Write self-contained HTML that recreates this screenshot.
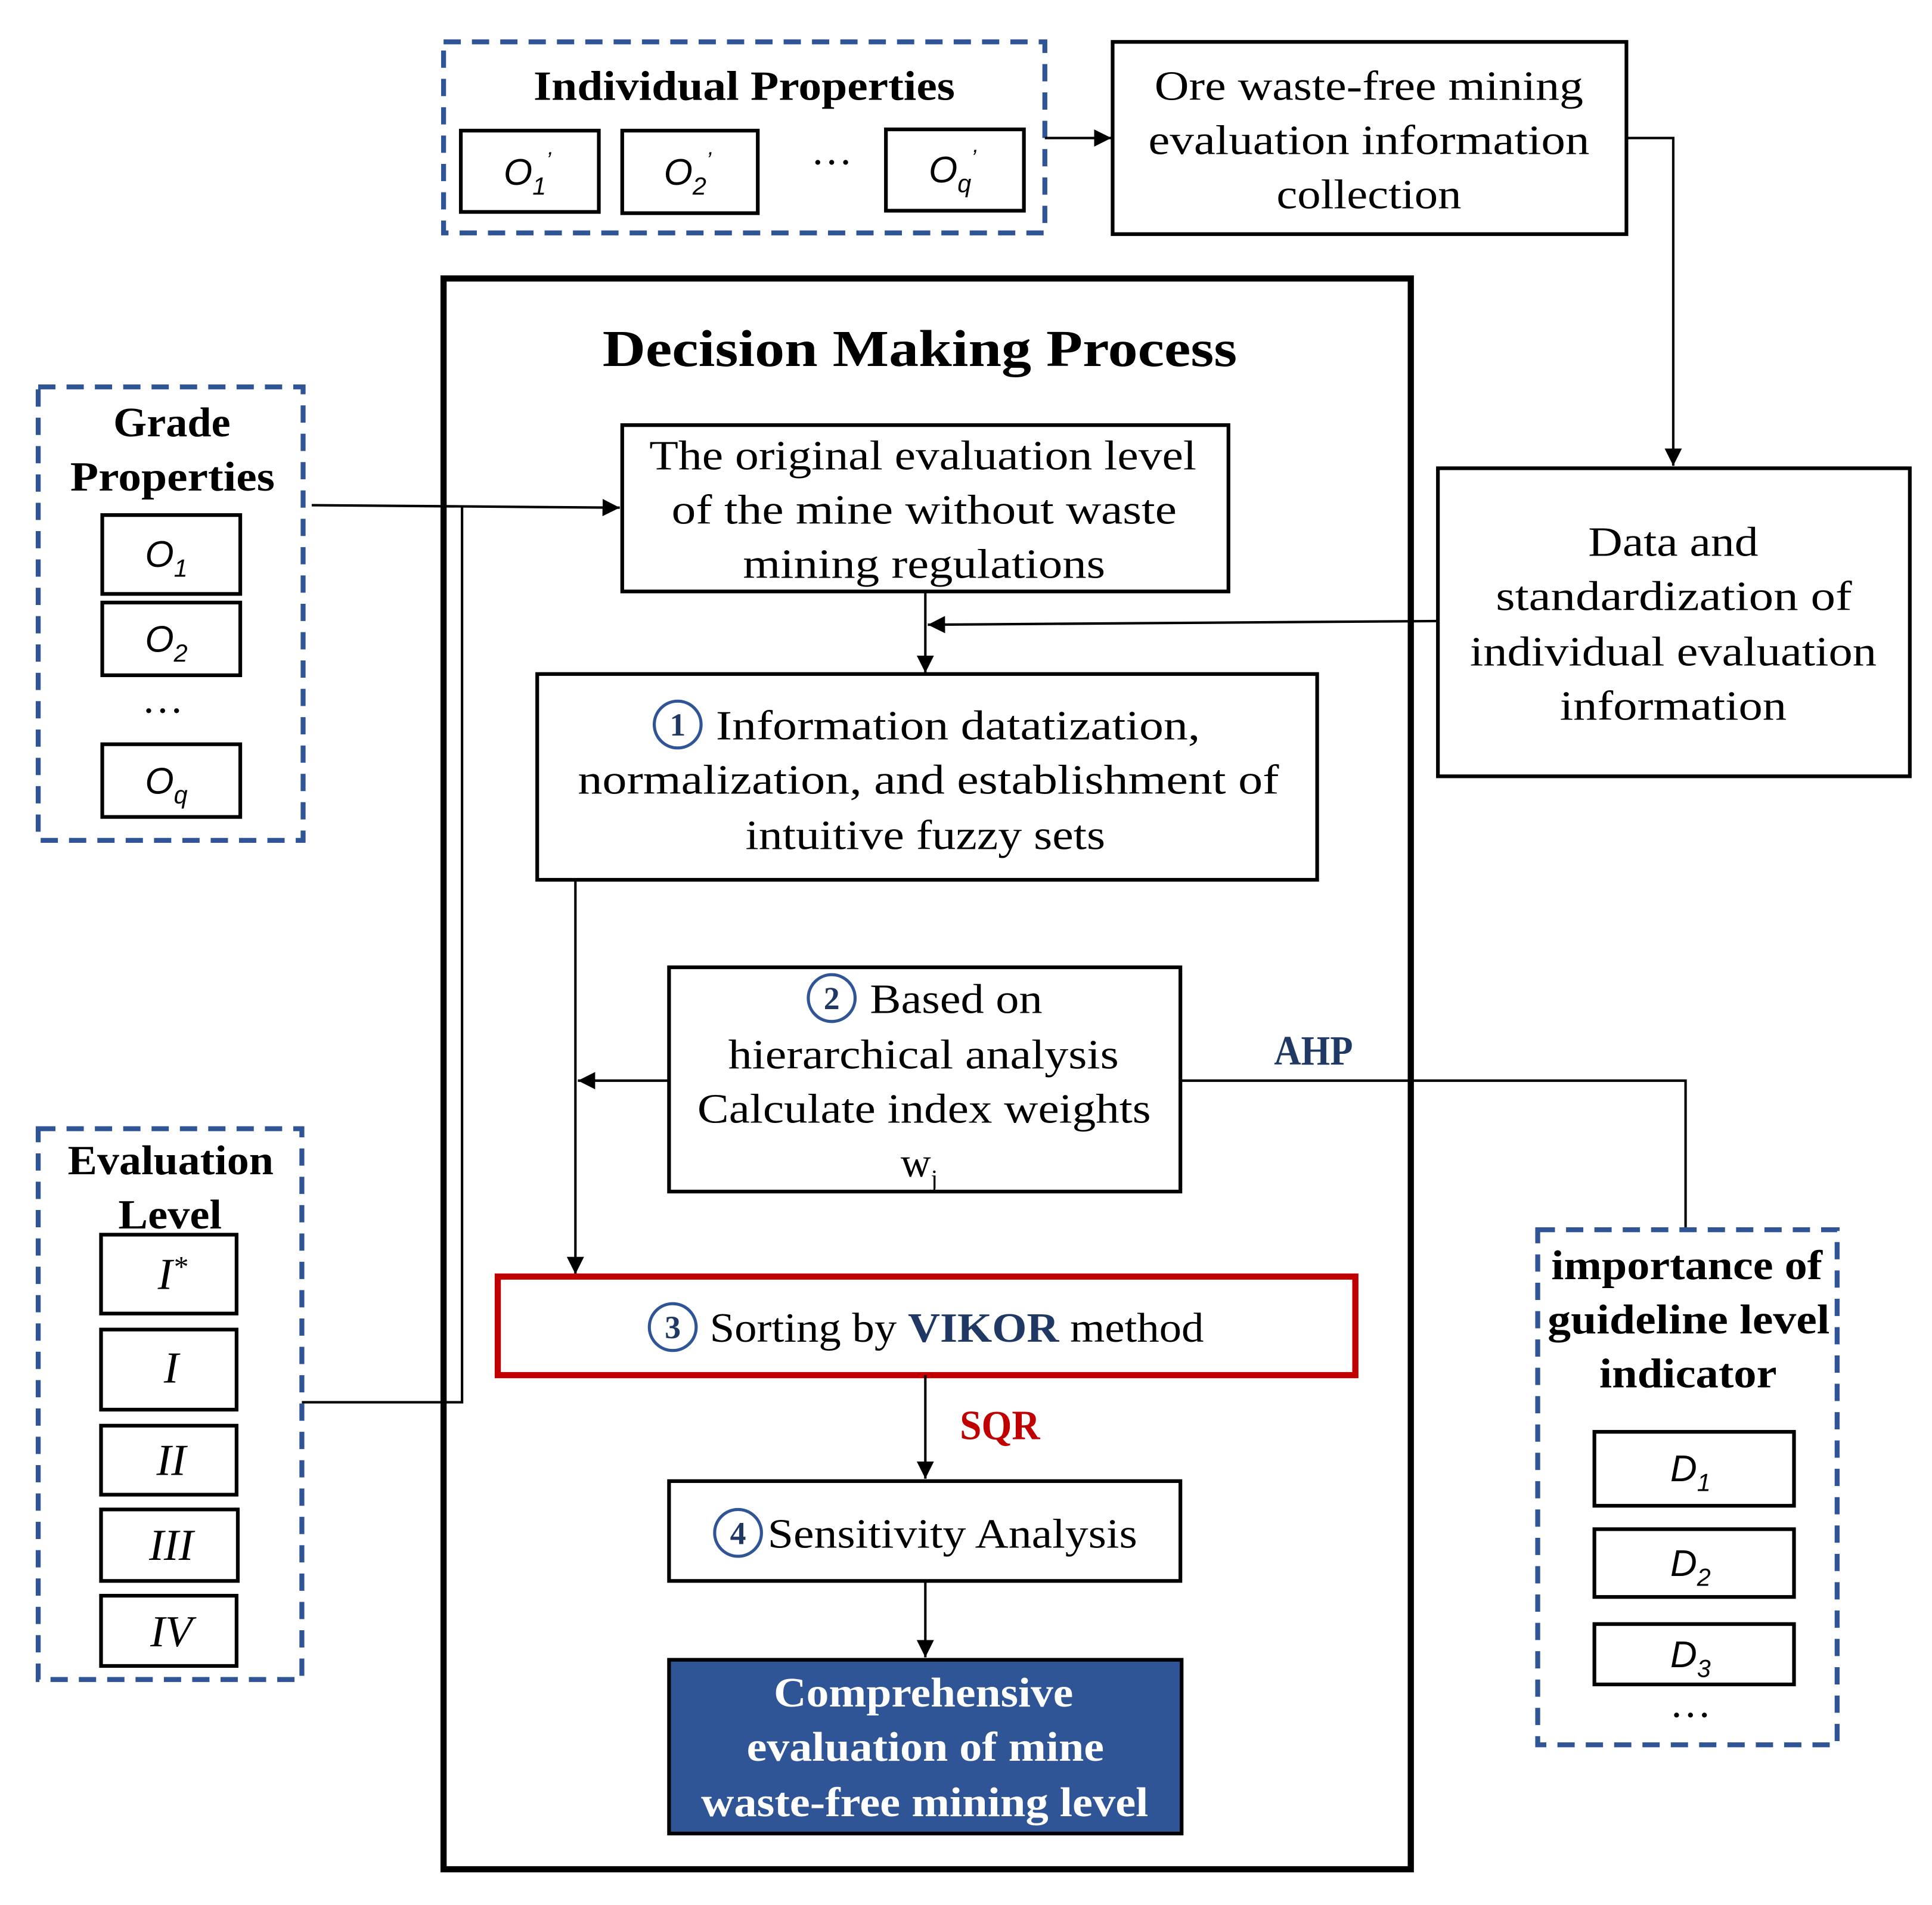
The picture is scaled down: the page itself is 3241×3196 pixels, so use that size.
<!DOCTYPE html>
<html><head><meta charset="utf-8"><style>
html,body{margin:0;padding:0;background:#fff}
svg{display:block}
text{font-family:"Liberation Serif",serif;fill:#000}
.t{font-size:34px}
.b{font-weight:bold}
.i{font-family:"Liberation Sans",sans-serif;font-style:italic;font-size:30px;text-anchor:middle}
.bx{fill:#fff;stroke:#000;stroke-width:3}
.d{fill:none;stroke:#2f5597;stroke-width:4;stroke-dasharray:14 9}
.ln{fill:none;stroke:#000;stroke-width:2}
.c{fill:#fff;stroke:#2f5597;stroke-width:2.5}
.cn{font-size:26px;font-weight:bold;fill:#1f3864;text-anchor:middle}
.m{text-anchor:middle;font-size:34px}
</style></head><body>
<svg width="3241" height="3196" viewBox="0 0 1568 1546" preserveAspectRatio="none" xmlns="http://www.w3.org/2000/svg">
<defs>
<marker id="A" viewBox="0 0 10 10" refX="10" refY="5" markerWidth="14" markerHeight="14" orient="auto" markerUnits="userSpaceOnUse"><path d="M0,0L10,5L0,10z" fill="#000"/></marker></defs>

<!-- Individual properties -->
<rect class="d" x="360" y="34" width="488" height="155"/>
<text class="t b" x="433" y="81" textLength="342" lengthAdjust="spacingAndGlyphs">Individual Properties</text>
<rect class="bx" x="374" y="106" width="112" height="66"/><text class="i" x="428" y="150">O<tspan font-size="20" dy="8">1</tspan><tspan font-size="18" dy="-22">’</tspan></text>
<rect class="bx" x="505" y="106" width="110" height="67"/><text class="i" x="558" y="150">O<tspan font-size="20" dy="8">2</tspan><tspan font-size="18" dy="-22">’</tspan></text>
<text class="m" x="675" y="143">···</text>
<rect class="bx" x="719" y="105" width="112" height="66"/><text class="i" x="773" y="148">O<tspan font-size="20" dy="8">q</tspan><tspan font-size="18" dy="-22">’</tspan></text>
<line class="ln" x1="848" y1="112" x2="902" y2="112" stroke-width="3" marker-end="url(#A)"/>

<rect class="bx" x="903" y="34" width="417" height="156"/>
<text class="t" x="937" y="81" textLength="348" lengthAdjust="spacingAndGlyphs">Ore waste-free mining</text>
<text class="t" x="932" y="125" textLength="358" lengthAdjust="spacingAndGlyphs">evaluation information</text>
<text class="t" x="1036" y="169" textLength="150" lengthAdjust="spacingAndGlyphs">collection</text>
<polyline class="ln" points="1320,112 1358,112 1358,378" marker-end="url(#A)"/>

<rect class="bx" x="1167" y="380" width="383" height="250"/>
<text class="t" x="1289" y="451" textLength="138" lengthAdjust="spacingAndGlyphs">Data and</text>
<text class="t" x="1214" y="495" textLength="289" lengthAdjust="spacingAndGlyphs">standardization of</text>
<text class="t" x="1193" y="540" textLength="330" lengthAdjust="spacingAndGlyphs">individual evaluation</text>
<text class="t" x="1266" y="584" textLength="184" lengthAdjust="spacingAndGlyphs">information</text>

<!-- main -->
<rect x="360" y="226" width="785" height="1291" fill="none" stroke="#000" stroke-width="5"/>
<text class="t b" x="489" y="297" style="font-size:42px" textLength="515" lengthAdjust="spacingAndGlyphs">Decision Making Process</text>

<!-- grade -->
<rect class="d" x="31" y="314" width="215" height="368"/>
<text class="t b" x="92" y="354" textLength="95" lengthAdjust="spacingAndGlyphs">Grade</text>
<text class="t b" x="57" y="398" textLength="166" lengthAdjust="spacingAndGlyphs">Properties</text>
<rect class="bx" x="83" y="418" width="112" height="64"/><text class="i" x="135" y="460">O<tspan font-size="20" dy="8">1</tspan></text>
<rect class="bx" x="83" y="489" width="112" height="59"/><text class="i" x="135" y="529">O<tspan font-size="20" dy="8">2</tspan></text>
<text class="m" x="132" y="588">···</text>
<rect class="bx" x="83" y="604" width="112" height="59"/><text class="i" x="135" y="644">O<tspan font-size="20" dy="8">q</tspan></text>

<line class="ln" x1="253" y1="410" x2="503" y2="412" marker-end="url(#A)"/>
<polyline class="ln" points="375,411 375,1138 245,1138"/>

<rect class="bx" x="505" y="345" width="492" height="135"/>
<text class="t" x="527" y="381" textLength="444" lengthAdjust="spacingAndGlyphs">The original evaluation level</text>
<text class="t" x="545" y="425" textLength="410" lengthAdjust="spacingAndGlyphs">of the mine without waste</text>
<text class="t" x="603" y="469" textLength="294" lengthAdjust="spacingAndGlyphs">mining regulations</text>
<line class="ln" x1="751" y1="480" x2="751" y2="546" marker-end="url(#A)"/>
<line class="ln" x1="1167" y1="504" x2="753" y2="507" marker-end="url(#A)"/>

<rect class="bx" x="436" y="547" width="633" height="167"/>
<circle class="c" cx="550" cy="588" r="19"/><text class="cn" x="550" y="597">1</text>
<text class="t" x="581" y="600" textLength="393" lengthAdjust="spacingAndGlyphs">Information datatization,</text>
<text class="t" x="469" y="644" textLength="569" lengthAdjust="spacingAndGlyphs">normalization, and establishment of</text>
<text class="t" x="605" y="689" textLength="292" lengthAdjust="spacingAndGlyphs">intuitive fuzzy sets</text>
<line class="ln" x1="467" y1="714" x2="467" y2="1034" marker-end="url(#A)"/>

<rect class="bx" x="543" y="785" width="415" height="182"/>
<circle class="c" cx="675" cy="810" r="19"/><text class="cn" x="675" y="819">2</text>
<text class="t" x="706" y="822" textLength="140" lengthAdjust="spacingAndGlyphs">Based on</text>
<text class="t" x="591" y="867" textLength="317" lengthAdjust="spacingAndGlyphs">hierarchical analysis</text>
<text class="t" x="566" y="911" textLength="368" lengthAdjust="spacingAndGlyphs">Calculate index weights</text>
<text class="m" x="746" y="955">w<tspan font-size="20" dy="8">j</tspan></text>
<line class="ln" x1="543" y1="877" x2="469" y2="877" marker-end="url(#A)"/>
<polyline class="ln" points="958,877 1368,877 1368,998"/>
<text class="t b" x="1034" y="864" style="fill:#1f3864;font-size:34px" textLength="64" lengthAdjust="spacingAndGlyphs">AHP</text>

<rect x="404" y="1036" width="696" height="80" fill="#fff" stroke="#c00000" stroke-width="5"/>
<circle class="c" cx="546" cy="1077" r="19"/><text class="cn" x="546" y="1086">3</text>
<text class="t" x="576" y="1089" textLength="401" lengthAdjust="spacingAndGlyphs">Sorting by <tspan class="b" style="fill:#1f3864">VIKOR</tspan> method</text>
<line class="ln" x1="751" y1="1116" x2="751" y2="1200" marker-end="url(#A)"/>
<text class="t b" x="779" y="1168" style="fill:#c00000;font-size:34px" textLength="65" lengthAdjust="spacingAndGlyphs">SQR</text>

<rect class="bx" x="543" y="1202" width="415" height="81"/>
<circle class="c" cx="599" cy="1244" r="19"/><text class="cn" x="599" y="1253">4</text>
<text class="t" x="623" y="1256" textLength="300" lengthAdjust="spacingAndGlyphs">Sensitivity Analysis</text>
<line class="ln" x1="751" y1="1283" x2="751" y2="1345" marker-end="url(#A)"/>

<rect x="543" y="1347" width="416" height="141" fill="#2f5597" stroke="#000" stroke-width="3"/>
<text class="t b" x="628" y="1385" style="fill:#fff" textLength="243" lengthAdjust="spacingAndGlyphs">Comprehensive</text>
<text class="t b" x="606" y="1429" style="fill:#fff" textLength="290" lengthAdjust="spacingAndGlyphs">evaluation of mine</text>
<text class="t b" x="569" y="1474" style="fill:#fff" textLength="363" lengthAdjust="spacingAndGlyphs">waste-free mining level</text>

<!-- evaluation -->
<rect class="d" x="31" y="916" width="214" height="447"/>
<text class="t b" x="55" y="953" textLength="167" lengthAdjust="spacingAndGlyphs">Evaluation</text>
<text class="t b" x="96" y="997" textLength="84" lengthAdjust="spacingAndGlyphs">Level</text>
<rect class="bx" x="82" y="1002" width="110" height="64"/><text class="m" x="140" y="1046" font-style="italic" style="font-size:36px">I<tspan font-size="24" dy="-10">*</tspan></text>
<rect class="bx" x="82" y="1079" width="110" height="65"/><text class="m" x="139" y="1122" font-style="italic" style="font-size:36px">I</text>
<rect class="bx" x="82" y="1157" width="110" height="56"/><text class="m" x="139" y="1197" font-style="italic" style="font-size:36px">II</text>
<rect class="bx" x="82" y="1225" width="111" height="58"/><text class="m" x="139" y="1266" font-style="italic" style="font-size:36px">III</text>
<rect class="bx" x="82" y="1295" width="110" height="57"/><text class="m" x="139" y="1336" font-style="italic" style="font-size:36px">IV</text>

<!-- importance -->
<rect class="d" x="1248" y="998" width="243" height="418"/>
<text class="t b" x="1259" y="1038" textLength="220" lengthAdjust="spacingAndGlyphs">importance of</text>
<text class="t b" x="1256" y="1082" textLength="229" lengthAdjust="spacingAndGlyphs">guideline level</text>
<text class="t b" x="1298" y="1126" textLength="144" lengthAdjust="spacingAndGlyphs">indicator</text>
<rect class="bx" x="1294" y="1162" width="162" height="60"/><text class="i" x="1372" y="1202">D<tspan font-size="20" dy="8">1</tspan></text>
<rect class="bx" x="1294" y="1241" width="162" height="55"/><text class="i" x="1372" y="1279">D<tspan font-size="20" dy="8">2</tspan></text>
<rect class="bx" x="1294" y="1318" width="162" height="49"/><text class="i" x="1372" y="1353">D<tspan font-size="20" dy="8">3</tspan></text>
<text class="m" x="1372" y="1403">···</text>
</svg>
</body></html>
